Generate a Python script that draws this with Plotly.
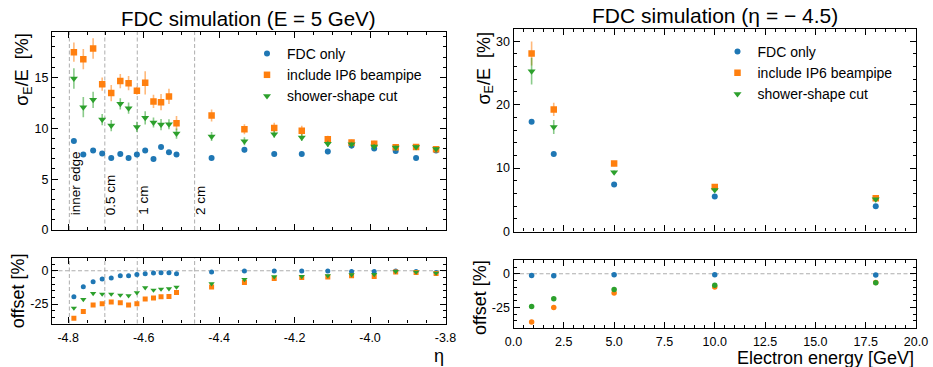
import plotly.graph_objects as go

# ---------------- data: left panels (E = 5 GeV, vs eta) ----------------
eta = [-4.785, -4.760, -4.734, -4.710, -4.686, -4.662, -4.640, -4.618, -4.596,
       -4.574, -4.554, -4.533, -4.513, -4.420, -4.333, -4.254, -4.181, -4.112,
       -4.049, -3.989, -3.932, -3.878, -3.825]

fdc_sigma = [8.76, 7.42, 7.81, 7.52, 7.09, 7.48, 7.09, 7.42, 7.81, 6.99, 8.17, 7.65,
             7.42, 7.09, 7.88, 7.48, 7.48, 7.71, 8.30, 8.01, 7.78, 7.09, 7.81]
fdc_sigma_err = [0.2, 0.2, 0.2, 0.2, 0.2, 0.2, 0.2, 0.2, 0.2, 0.2, 0.2, 0.2,
                 0.2, 0.2, 0.25, 0.2, 0.2, 0.25, 0.3, 0.25, 0.25, 0.2, 0.2]
ip6_sigma = [17.49, 16.80, 17.85, 14.34, 13.46, 14.64, 14.44, 13.69, 14.47, 12.64,
             12.57, 13.13, 10.50, 11.26, 9.91, 10.04, 9.75, 8.93, 8.60, 8.47, 8.14,
             8.17, 7.94]
ip6_sigma_err = [0.95, 1.0, 1.0, 0.65, 0.8, 0.7, 0.7, 0.4, 1.15, 0.65, 0.8, 0.75,
                 0.7, 0.6, 0.5, 0.5, 0.5, 0.35, 0.3, 0.3, 0.25, 0.2, 0.2]
cut_sigma = [14.90, 12.08, 12.80, 10.86, 10.27, 12.41, 11.98, 10.14, 11.03, 10.57,
             10.37, 10.40, 9.48, 9.19, 8.73, 9.42, 9.09, 8.47, 8.43, 8.20, 8.11,
             8.17, 7.97]
cut_sigma_err = [1.0, 1.0, 0.8, 0.55, 0.55, 0.55, 0.55, 0.5, 0.65, 0.5, 0.55, 0.5,
                 0.5, 0.45, 0.4, 0.35, 0.35, 0.3, 0.25, 0.25, 0.2, 0.2, 0.2]

fdc_offset = [-19.5, -12.0, -8.25, -6.25, -5.5, -3.75, -3.75, -2.75, -2.25, -1.75,
              -1.5, -1.5, -2.25, -1.0, -0.25, -0.25, -0.25, -0.25, -0.5, -0.5,
              -0.25, -0.5, -1.25]
ip6_offset = [-35.75, -30.5, -25.75, -24.75, -23.5, -24.0, -25.75, -24.75, -21.25,
              -20.5, -19.5, -19.25, -16.25, -12.25, -8.75, -5.75, -5.0, -4.75,
              -3.75, -4.25, -1.0, -1.25, -2.0]
cut_offset = [-28.0, -21.5, -17.0, -17.5, -17.5, -18.25, -18.75, -16.5, -12.75,
              -14.5, -13.75, -13.5, -12.25, -9.75, -6.5, -4.5, -4.25, -3.75, -3.0,
              -2.75, -0.5, -1.0, -1.75]

edge_eta = [-4.797, -4.703, -4.617, -4.465]
edge_labels = ["inner edge", "0.5 cm", "1 cm", "2 cm"]

# ---------------- data: right panels (eta = -4.5, vs energy) ----------------
energy = [0.9, 2.0, 5.0, 10.0, 18.0]
fdc_sigma_E = [17.3, 12.22, 7.39, 5.51, 3.99]
fdc_sigma_E_err = [0.35, 0.35, 0.2, 0.15, 0.15]
ip6_sigma_E = [28.05, 19.24, 10.70, 7.03, 5.24]
ip6_sigma_E_err = [1.9, 1.05, 0.4, 0.25, 0.2]
cut_sigma_E = [25.28, 16.47, 9.33, 6.55, 5.09]
cut_sigma_E_err = [2.1, 1.1, 0.3, 0.25, 0.2]
fdc_offset_E = [-1.25, -1.5, -0.75, -0.75, -1.0]
ip6_offset_E = [-35.75, -25.0, -14.25, -9.75, -6.5]
cut_offset_E = [-24.25, -18.5, -11.75, -8.5, -6.75]

series_names = ["FDC only", "include IP6 beampipe", "shower-shape cut"]
eta_tickvals = [-4.8, -4.6, -4.4, -4.2, -4.0, -3.8]
eta_ticktext = ["-4.8", "-4.6", "-4.4", "-4.2", "-4.0", "-3.8"]
offset_tickvals = [-25, 0]
offset_ticktext = ["-25", "0"]

BLUE, ORANGE, GREEN = "#1f77b4", "#ff7f0e", "#2ca02c"
BLUE_E, ORANGE_E, GREEN_E = "rgba(31,119,180,0.55)", "rgba(255,127,14,0.55)", "rgba(44,160,44,0.55)"
FONT = "Liberation Sans, Arial, Helvetica, sans-serif"

fig = go.Figure()

def err(arr, col):
    return dict(type="data", array=arr, color=col, thickness=1.6, width=0)

# left top
fig.add_trace(go.Scatter(x=eta, y=fdc_sigma, mode="markers", name=series_names[0],
                         marker=dict(symbol="circle", size=6, color=BLUE),
                         error_y=err(fdc_sigma_err, BLUE_E), xaxis="x", yaxis="y", legend="legend"))
fig.add_trace(go.Scatter(x=eta, y=ip6_sigma, mode="markers", name=series_names[1],
                         marker=dict(symbol="square", size=6.5, color=ORANGE),
                         error_y=err(ip6_sigma_err, ORANGE_E), xaxis="x", yaxis="y", legend="legend"))
fig.add_trace(go.Scatter(x=eta, y=cut_sigma, mode="markers", name=series_names[2],
                         marker=dict(symbol="triangle-down", size=7, color=GREEN),
                         error_y=err(cut_sigma_err, GREEN_E), xaxis="x", yaxis="y", legend="legend"))
# left bottom
fig.add_trace(go.Scatter(x=eta, y=fdc_offset, mode="markers", showlegend=False,
                         marker=dict(symbol="circle", size=5, color=BLUE), xaxis="x2", yaxis="y2"))
fig.add_trace(go.Scatter(x=eta, y=ip6_offset, mode="markers", showlegend=False,
                         marker=dict(symbol="square", size=5, color=ORANGE), xaxis="x2", yaxis="y2"))
fig.add_trace(go.Scatter(x=eta, y=cut_offset, mode="markers", showlegend=False,
                         marker=dict(symbol="triangle-down", size=5.5, color=GREEN), xaxis="x2", yaxis="y2"))
# right top
fig.add_trace(go.Scatter(x=energy, y=fdc_sigma_E, mode="markers", name=series_names[0],
                         marker=dict(symbol="circle", size=6, color=BLUE),
                         error_y=err(fdc_sigma_E_err, BLUE_E), xaxis="x3", yaxis="y3", legend="legend2"))
fig.add_trace(go.Scatter(x=energy, y=ip6_sigma_E, mode="markers", name=series_names[1],
                         marker=dict(symbol="square", size=6.5, color=ORANGE),
                         error_y=err(ip6_sigma_E_err, ORANGE_E), xaxis="x3", yaxis="y3", legend="legend2"))
fig.add_trace(go.Scatter(x=energy, y=cut_sigma_E, mode="markers", name=series_names[2],
                         marker=dict(symbol="triangle-down", size=7, color=GREEN),
                         error_y=err(cut_sigma_E_err, GREEN_E), xaxis="x3", yaxis="y3", legend="legend2"))
# right bottom (all circles)
fig.add_trace(go.Scatter(x=energy, y=fdc_offset_E, mode="markers", showlegend=False,
                         marker=dict(symbol="circle", size=5.5, color=BLUE), xaxis="x4", yaxis="y4"))
fig.add_trace(go.Scatter(x=energy, y=ip6_offset_E, mode="markers", showlegend=False,
                         marker=dict(symbol="circle", size=5.5, color=ORANGE), xaxis="x4", yaxis="y4"))
fig.add_trace(go.Scatter(x=energy, y=cut_offset_E, mode="markers", showlegend=False,
                         marker=dict(symbol="circle", size=5.5, color=GREEN), xaxis="x4", yaxis="y4"))

W, H = 933, 367
def px_y(top, bottom):
    return [1 - bottom / H, 1 - top / H]

axis_common = dict(showline=True, linecolor="black", linewidth=1.3, mirror="allticks",
                   ticks="inside", ticklen=6, tickwidth=1, tickcolor="black",
                   showgrid=False, zeroline=False, automargin=False,
                   tickfont=dict(size=12.5, color="black", family=FONT))

LX = [52 / W, 445.7 / W]
RX = [513.5 / W, 916 / W]

fig.update_layout(
    width=W, height=H, margin=dict(l=0, r=0, t=0, b=0, pad=0, autoexpand=False),
    paper_bgcolor="white", plot_bgcolor="white",
    font=dict(family=FONT, color="black"),
    xaxis=dict(axis_common, domain=LX, anchor="y", range=[-4.843, -3.7995],
               tickvals=eta_tickvals, ticktext=eta_ticktext, showticklabels=False,
               minor=dict(ticks="inside", dtick=0.05, tick0=-4.8, ticklen=3, tickcolor="black")),
    yaxis=dict(axis_common, domain=px_y(31.7, 230), anchor="x", range=[0, 19.5], dtick=5,
               minor=dict(ticks="inside", dtick=1, ticklen=3, tickcolor="black")),
    xaxis2=dict(axis_common, domain=LX, anchor="y2", range=[-4.843, -3.7995],
                tickvals=eta_tickvals, ticktext=eta_ticktext, ticklabelstandoff=2,
                minor=dict(ticks="inside", dtick=0.05, tick0=-4.8, ticklen=3, tickcolor="black")),
    yaxis2=dict(axis_common, domain=px_y(257.7, 323.5), anchor="x2", range=[-39.6, 9.8],
                tickvals=offset_tickvals, ticktext=offset_ticktext,
                minor=dict(ticks="inside", dtick=5, ticklen=3, tickcolor="black")),
    xaxis3=dict(axis_common, domain=RX, anchor="y3", range=[0, 20], dtick=2.5,
                tickformat=".1f", showticklabels=False,
                minor=dict(ticks="inside", dtick=0.5, ticklen=3, tickcolor="black")),
    yaxis3=dict(axis_common, domain=px_y(28.5, 231.5), anchor="x3", range=[0, 32], dtick=10,
                minor=dict(ticks="inside", dtick=2, ticklen=3, tickcolor="black")),
    xaxis4=dict(axis_common, domain=RX, anchor="y4", range=[0, 20], dtick=2.5,
                tickformat=".1f", ticklabelstandoff=2,
                minor=dict(ticks="inside", dtick=0.5, ticklen=3, tickcolor="black")),
    yaxis4=dict(axis_common, domain=px_y(260, 328), anchor="x4", range=[-40.2, 10.2],
                tickvals=offset_tickvals, ticktext=offset_ticktext,
                minor=dict(ticks="inside", dtick=5, ticklen=3, tickcolor="black")),
    legend=dict(x=247 / W, y=1 - 38 / H, xanchor="left", yanchor="top",
                bgcolor="rgba(0,0,0,0)", font=dict(size=14, family=FONT)),
    legend2=dict(x=717.5 / W, y=1 - 36 / H, xanchor="left", yanchor="top",
                 bgcolor="rgba(0,0,0,0)", font=dict(size=14, family=FONT)),
)

shapes = []
annotations = []
dash_line = dict(color="rgba(165,165,165,0.9)", width=1, dash="4px,2.5px")
for xe, lab in zip(edge_eta, edge_labels):
    for ya in ("y", "y2"):
        shapes.append(dict(type="line", xref="x" if ya == "y" else "x2", yref=f"{ya} domain",
                           x0=xe, x1=xe, y0=0, y1=1, line=dash_line, layer="below"))
    annotations.append(dict(x=xe, y=(230 - 217) / (230 - 31.7), xref="x", yref="y domain",
                            text=lab, textangle=-90, showarrow=False, xanchor="center",
                            yanchor="bottom", xshift=6, font=dict(size=13.5, family=FONT)))
for xa, ya in (("x2", "y2"), ("x4", "y4")):
    shapes.append(dict(type="line", xref=f"{xa} domain", yref=ya, x0=0, x1=1, y0=0, y1=0,
                       line=dash_line, layer="below"))

# titles
annotations.append(dict(x=248.8 / W, y=1 - 18.5 / H, xref="paper", yref="paper",
                        text="FDC simulation (E = 5 GeV)", showarrow=False,
                        xanchor="center", yanchor="middle", font=dict(size=20.5, family=FONT)))
annotations.append(dict(x=714.5 / W, y=1 - 15.5 / H, xref="paper", yref="paper",
                        text="FDC simulation (η = − 4.5)", showarrow=False,
                        xanchor="center", yanchor="middle", font=dict(size=21, family=FONT)))
# axis titles
annotations.append(dict(x=23.3 / W, y=1 - 31 / H, xref="paper", yref="paper",
                        text="σ<sub>E</sub>/E  [%]", textangle=-90, showarrow=False,
                        xanchor="center", yanchor="top", font=dict(size=18, family=FONT)))
annotations.append(dict(x=18.3 / W, y=1 - 291 / H, xref="paper", yref="paper",
                        text="offset [%]", textangle=-90, showarrow=False,
                        xanchor="center", yanchor="middle", font=dict(size=18, family=FONT)))
annotations.append(dict(x=485 / W, y=1 - 29 / H, xref="paper", yref="paper",
                        text="σ<sub>E</sub>/E  [%]", textangle=-90, showarrow=False,
                        xanchor="center", yanchor="top", font=dict(size=18, family=FONT)))
annotations.append(dict(x=480 / W, y=1 - 297 / H, xref="paper", yref="paper",
                        text="offset [%]", textangle=-90, showarrow=False,
                        xanchor="center", yanchor="middle", font=dict(size=18, family=FONT)))
annotations.append(dict(x=446 / W, y=1 - 356 / H, xref="paper", yref="paper",
                        text="η", showarrow=False,
                        xanchor="right", yanchor="middle", font=dict(size=18, family=FONT)))
annotations.append(dict(x=916 / W, y=1 - 358 / H, xref="paper", yref="paper",
                        text="Electron energy [GeV]", showarrow=False,
                        xanchor="right", yanchor="middle", font=dict(size=18, family=FONT)))

fig.update_layout(shapes=shapes, annotations=annotations)
fig.write_html("out.html")
